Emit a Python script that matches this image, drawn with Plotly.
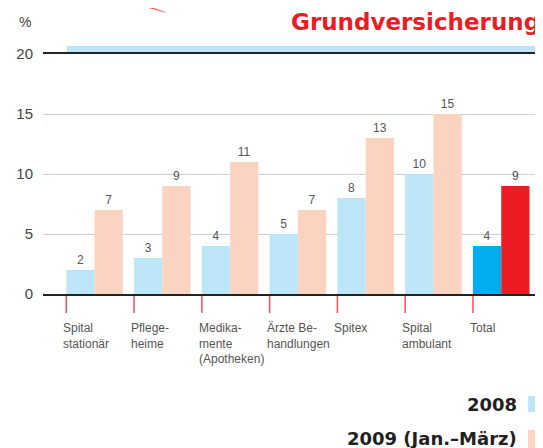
import plotly.graph_objects as go

categories = ["Spital<br>stationär", "Pflege-<br>heime", "Medika-<br>mente<br>(Apotheken)",
              "Ärzte Be-<br>handlungen", "Spitex", "Spital<br>ambulant", "Total"]
v2008 = [2, 3, 4, 5, 8, 10, 4]
v2009 = [7, 9, 11, 7, 13, 15, 9]
y_ticks = [0, 5, 10, 15, 20]
series_names = ["2008", "2009 (Jan.–März)"]
title_text = "Grundversicherung"
unit_text = "%"

# page body has an 8px default margin; compensate
OFF = 8
W, H = 543, 448
ML, MR = 40 - OFF, OFF
MT = 54 - OFF
MB = H - (294 - OFF)
PW, PH = W - ML - MR, H - MT - MB

def px(x):
    return (x - OFF - ML) / PW

def py(y):
    return (H - MB - (y - OFF)) / PH

LIGHT_BLUE = "#bde5f8"
PEACH = "#fbd3c1"
BLUE = "#00aeef"
RED = "#ed1c24"
TICK_RED = "#f0505a"

xs = list(range(len(categories)))
n = len(categories)
c2008 = [LIGHT_BLUE] * (n - 1) + [BLUE]
c2009 = [PEACH] * (n - 1) + [RED]

BARGAP = 0.166
half = (1 - BARGAP) / 2

fig = go.Figure()
fig.add_trace(go.Bar(x=xs, y=v2008, name=series_names[0], marker=dict(color=c2008, line=dict(width=0)),
                     text=v2008, textposition="outside", cliponaxis=False,
                     textfont=dict(size=12, color="#555555", family="Liberation Sans")))
fig.add_trace(go.Bar(x=xs, y=v2009, name=series_names[1], marker=dict(color=c2009, line=dict(width=0)),
                     text=v2009, textposition="outside", cliponaxis=False,
                     textfont=dict(size=12, color="#555555", family="Liberation Sans")))

shapes = []
annotations = []
for i, lab in zip(xs, categories):
    shapes.append(dict(type="line", xref="x", yref="paper", x0=i - half, x1=i - half,
                       y0=py(296), y1=py(313), line=dict(color=TICK_RED, width=1.5)))
    annotations.append(dict(x=i - half, xref="x", y=py(319), yref="paper", text=lab,
                            xanchor="left", yanchor="top", align="left", showarrow=False, xshift=-5,
                            font=dict(size=12, color="#555555", family="Liberation Sans")))

# decorative blue band above 20 line
shapes.append(dict(type="rect", xref="paper", yref="paper", x0=px(64), x1=px(545), y0=py(54), y1=py(46),
                   fillcolor=LIGHT_BLUE, line=dict(width=0), layer="below"))
# swoosh
path = "M {:.4f},{:.4f} Q {:.4f},{:.4f} {:.4f},{:.4f} L {:.4f},{:.4f} Q {:.4f},{:.4f} {:.4f},{:.4f} Z".format(
    px(110), py(-0.5), px(142), py(3), px(164), py(12.5), px(162), py(12.5), px(138), py(5), px(110), py(1.2))
shapes.append(dict(type="path", xref="paper", yref="paper", path=path,
                   fillcolor="rgba(238,70,60,0.8)", line=dict(width=0)))

# legend swatches
shapes.append(dict(type="rect", xref="paper", yref="paper", x0=px(528), x1=px(545), y0=py(412), y1=py(396),
                   fillcolor=LIGHT_BLUE, line=dict(width=0)))
shapes.append(dict(type="rect", xref="paper", yref="paper", x0=px(528), x1=px(545), y0=py(450), y1=py(430),
                   fillcolor=PEACH, line=dict(width=0)))
annotations.append(dict(x=px(519), y=py(404), xref="paper", yref="paper", text=series_names[0],
                        xanchor="right", yanchor="middle", showarrow=False,
                        font=dict(size=18, color="#231f20", family="DejaVu Sans", weight="bold")))
annotations.append(dict(x=px(519), y=py(438), xref="paper", yref="paper", text=series_names[1],
                        xanchor="right", yanchor="middle", showarrow=False,
                        font=dict(size=18, color="#231f20", family="DejaVu Sans", weight="bold")))
# title (as high as the page allows)
annotations.append(dict(x=px(541), y=py(8), xref="paper", yref="paper", text=title_text,
                        xanchor="right", yanchor="top", showarrow=False, borderpad=0,
                        font=dict(size=23, color=RED, family="DejaVu Sans", weight="bold")))
annotations.append(dict(x=px(22), y=py(22), xref="paper", yref="paper", text=unit_text,
                        xanchor="center", yanchor="middle", showarrow=False,
                        font=dict(size=14, color="#444444", family="Liberation Sans")))

fig.update_layout(
    width=W, height=H, margin=dict(l=ML, r=MR, t=MT, b=MB),
    paper_bgcolor="white", plot_bgcolor="white",
    barmode="group", bargap=BARGAP, bargroupgap=0,
    showlegend=False, shapes=shapes, annotations=annotations,
    xaxis=dict(range=[-0.76, 6.616], showticklabels=False, ticks="", showgrid=False, zeroline=False,
               showline=True, mirror=True, linecolor="#222222", linewidth=1.5, fixedrange=True),
    yaxis=dict(range=[0, 20], tickvals=y_ticks, ticks="", showgrid=True, gridcolor="#d0d0d0", gridwidth=1.2,
               zeroline=False, showline=False, ticklabelstandoff=9,
               tickfont=dict(size=15, color="#444444", family="Liberation Sans")),
)

fig.write_html("out.html")
